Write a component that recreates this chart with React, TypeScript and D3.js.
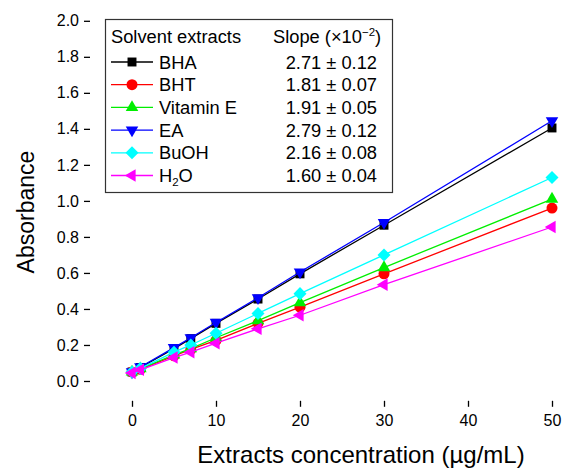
import { useEffect, useRef } from 'react'
import * as d3 from 'd3'

const concentrations = [0, 1, 5, 7, 10, 15, 20, 30, 50]

const seriesNames = ['BHA', 'BHT', 'Vitamin E', 'EA', 'BuOH', 'H2O']
const slopeLabels = ['2.71 ± 0.12', '1.81 ± 0.07', '1.91 ± 0.05', '2.79 ± 0.12', '2.16 ± 0.08', '1.60 ± 0.04']

const bhaValues = [0.05, 0.075, 0.18, 0.235, 0.32, 0.455, 0.595, 0.865, 1.405]
const bhtValues = [0.05, 0.065, 0.14, 0.175, 0.225, 0.32, 0.41, 0.595, 0.96]
const vitEValues = [0.05, 0.068, 0.145, 0.18, 0.24, 0.335, 0.435, 0.63, 1.01]
const eaValues = [0.05, 0.078, 0.185, 0.24, 0.325, 0.462, 0.605, 0.88, 1.445]
const buohValues = [0.05, 0.07, 0.16, 0.2, 0.265, 0.375, 0.485, 0.7, 1.13]
const h2oValues = [0.045, 0.062, 0.13, 0.16, 0.21, 0.29, 0.365, 0.535, 0.855]

const xTicks = [0, 10, 20, 30, 40, 50]
const yTicks = [0, 0.2, 0.4, 0.6, 0.8, 1.0, 1.2, 1.4, 1.6, 1.8, 2.0]

const W = 588
const H = 468
const FONT = '"Liberation Sans", Arial, sans-serif'

type Marker = { type: d3.SymbolType; size: number; rotate: number }

const styles: { color: string; marker: Marker }[] = [
  { color: '#000000', marker: { type: d3.symbolSquare, size: 80, rotate: 0 } },
  { color: '#ff0000', marker: { type: d3.symbolCircle, size: 95, rotate: 0 } },
  { color: '#00ee00', marker: { type: d3.symbolTriangle, size: 68, rotate: 0 } },
  { color: '#0000ff', marker: { type: d3.symbolTriangle, size: 68, rotate: 180 } },
  { color: '#00ffff', marker: { type: d3.symbolSquare, size: 85, rotate: 45 } },
  { color: '#ff00ff', marker: { type: d3.symbolTriangle, size: 68, rotate: -90 } },
]

export default function App() {
  const svgRef = useRef<SVGSVGElement>(null)

  useEffect(() => {
    if (!svgRef.current) return
    const svg = d3.select(svgRef.current)
    svg.selectAll('*').remove()

    const values = [bhaValues, bhtValues, vitEValues, eaValues, buohValues, h2oValues]

    const x = d3.scaleLinear().domain([-5, 55]).range([90, 594])
    const y = d3.scaleLinear().domain([-0.11, 2.0]).range([400.8, 20.8])

    // X axis: major + minor ticks
    const xAx = svg.append('g').attr('transform', `translate(0,${y(-0.11)})`)
    xAx.call(d3.axisBottom(x).tickValues(d3.range(-5, 56, 5)).tickSize(3).tickFormat(() => ''))
      .call(ax => ax.select('.domain').attr('stroke-width', 1.3))
    xAx.call(d3.axisBottom(x).tickValues(xTicks).tickSize(6).tickPadding(8).tickFormat(d3.format('d')))
      .call(ax => ax.selectAll('.domain').remove())
      .selectAll('text').attr('font-family', FONT).attr('font-size', 16).attr('fill', '#000')
    xAx.selectAll('line').attr('stroke-width', 1.3)

    // Y axis: major + minor ticks
    const yAx = svg.append('g').attr('transform', `translate(${x(-5)},0)`)
    yAx.call(d3.axisLeft(y).tickValues(d3.range(-0.1, 2.01, 0.1)).tickSize(3).tickFormat(() => ''))
      .call(ax => ax.select('.domain').attr('stroke-width', 1.3).attr('d', `M-0.5,${y(-0.11)}V${y(2.0)}`))
    yAx.call(d3.axisLeft(y).tickValues(yTicks).tickSize(6).tickPadding(5).tickFormat(d3.format('.1f')))
      .call(ax => ax.selectAll('.domain').remove())
      .selectAll('text').attr('font-family', FONT).attr('font-size', 16).attr('fill', '#000')
    yAx.selectAll('line').attr('stroke-width', 1.3)

    // Axis titles
    svg.append('text')
      .attr('x', 361).attr('y', 463)
      .attr('text-anchor', 'middle')
      .attr('font-family', FONT).attr('font-size', 24)
      .text('Extracts concentration (µg/mL)')
    svg.append('text')
      .attr('transform', `translate(34,212) rotate(-90)`)
      .attr('text-anchor', 'middle')
      .attr('font-family', FONT).attr('font-size', 23)
      .text('Absorbance')

    // Lines and markers
    const line = d3.line<number>()
      .x((_, i) => x(concentrations[i]))
      .y(d => y(d))

    values.forEach((vals, si) => {
      const st = styles[si]
      const g = svg.append('g')
      g.append('path').datum(vals)
        .attr('fill', 'none').attr('stroke', st.color).attr('stroke-width', 1.3)
        .attr('d', line)
      const sym = d3.symbol().type(st.marker.type).size(st.marker.size)
      g.selectAll('path.m').data(vals).join('path')
        .attr('class', 'm')
        .attr('d', sym)
        .attr('fill', st.color)
        .attr('transform', (d, i) => `translate(${x(concentrations[i])},${y(d)}) rotate(${st.marker.rotate})`)
    })

    // Legend
    const lg = svg.append('g')
    lg.append('rect').attr('x', 105.5).attr('y', 19.5).attr('width', 287).attr('height', 173)
      .attr('fill', '#fff').attr('stroke', '#333').attr('stroke-width', 1.2)
    lg.append('text').attr('x', 111).attr('y', 43)
      .attr('font-family', FONT).attr('font-size', 18.3).text('Solvent extracts')
    const hdr = lg.append('text').attr('x', 273).attr('y', 43)
      .attr('font-family', FONT).attr('font-size', 18.3)
    hdr.append('tspan').text('Slope (×10')
    hdr.append('tspan').attr('dy', -7).attr('font-size', 11.5).text('−2')
    hdr.append('tspan').attr('dy', 7).text(')')

    seriesNames.forEach((name, i) => {
      const st = styles[i]
      const cy = 62 + i * 22.7
      lg.append('line').attr('x1', 111).attr('x2', 153).attr('y1', cy).attr('y2', cy)
        .attr('stroke', st.color).attr('stroke-width', 1.3)
      lg.append('path')
        .attr('d', d3.symbol().type(st.marker.type).size(st.marker.size)())
        .attr('fill', st.color)
        .attr('transform', `translate(132,${cy}) rotate(${st.marker.rotate})`)
      const t = lg.append('text').attr('x', 159).attr('y', cy + 6.5)
        .attr('font-family', FONT).attr('font-size', 18.3)
      if (name === 'H2O') {
        t.append('tspan').text('H')
        t.append('tspan').attr('dy', 4).attr('font-size', 11.5).text('2')
        t.append('tspan').attr('dy', -4).text('O')
      } else {
        t.text(name)
      }
      lg.append('text').attr('x', 377).attr('y', cy + 6.5)
        .attr('text-anchor', 'end')
        .attr('font-family', FONT).attr('font-size', 18.3)
        .text(slopeLabels[i])
    })
  }, [])

  return (
    <div style={{ position: 'absolute', left: 0, top: 0 }}>
      <svg ref={svgRef} width={W} height={H} style={{ display: 'block', background: '#fff' }} />
    </div>
  )
}
